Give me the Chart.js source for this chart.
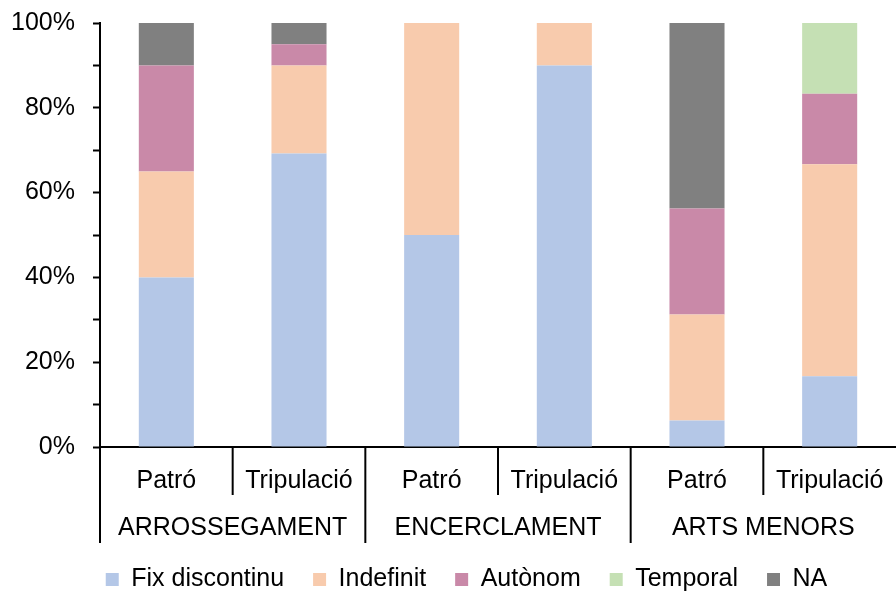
<!DOCTYPE html>
<html>
<head>
<meta charset="utf-8">
<script src="https://cdn.jsdelivr.net/npm/chart.js@4/dist/chart.umd.min.js"></script>
<style>
  html, body { margin: 0; padding: 0; background: #fff; overflow: hidden; }
  #wrap { width: 933px; height: 602px; }
</style>
</head>
<body>
<div id="wrap"><canvas id="chart"></canvas></div>
<script>
// Dades (percentatges per barra)
const grups = ["ARROSSEGAMENT", "ENCERCLAMENT", "ARTS MENORS"];
const subcats = ["Patró", "Tripulació", "Patró", "Tripulació", "Patró", "Tripulació"];
const fixDiscontinu = [40, 69.2, 50, 90, 6.25, 16.67];
const indefinit = [25, 20.8, 50, 10, 25, 50];
const autonom = [25, 5, 0, 0, 25, 16.67];
const temporal = [0, 0, 0, 0, 0, 16.66];
const na = [10, 5, 0, 0, 43.75, 0];
const yTicks = [0, 20, 40, 60, 80, 100];

const FONT = "'Liberation Sans', Arial, sans-serif";
const MIDA = 25;

// Etiquetes de dos nivells a l'eix X
const etiquetesX = {
  id: "etiquetesX",
  afterDraw(chart) {
    const ctx = chart.ctx;
    const x = chart.scales.x;
    const y0 = chart.chartArea.bottom;
    const pas = x.getPixelForValue(1) - x.getPixelForValue(0);
    ctx.save();
    ctx.strokeStyle = "#000";
    ctx.lineWidth = 2;
    for (let i = 0; i < subcats.length; i++) {
      const px = x.getPixelForValue(i) - pas / 2;
      const llarg = (i % 2 === 0) ? 96 : 48;
      ctx.beginPath();
      ctx.moveTo(px, y0);
      ctx.lineTo(px, y0 + llarg);
      ctx.stroke();
    }
    ctx.fillStyle = "#000";
    ctx.font = MIDA + "px " + FONT;
    ctx.textAlign = "center";
    ctx.textBaseline = "middle";
    subcats.forEach((s, i) => {
      ctx.fillText(s, x.getPixelForValue(i), y0 + 34);
    });
    grups.forEach((g, j) => {
      const cx = (x.getPixelForValue(2 * j) + x.getPixelForValue(2 * j + 1)) / 2;
      ctx.fillText(g, cx, y0 + 81);
    });
    ctx.restore();
  }
};

const series = [
  { label: "Fix discontinu", data: fixDiscontinu, color: "#B4C7E7" },
  { label: "Indefinit", data: indefinit, color: "#F8CBAD" },
  { label: "Autònom", data: autonom, color: "#C989A8" },
  { label: "Temporal", data: temporal, color: "#C5E0B4" },
  { label: "NA", data: na, color: "#808080" }
];

new Chart(document.getElementById("chart"), {
  type: "bar",
  data: {
    labels: subcats,
    datasets: series.map(s => ({
      label: s.label,
      data: s.data,
      backgroundColor: s.color,
      borderWidth: 0,
      barPercentage: 0.415,
      categoryPercentage: 1
    }))
  },
  options: {
    responsive: true,
    maintainAspectRatio: false,
    animation: false,
    layout: { padding: { top: 23, right: 0, left: 0, bottom: 0 } },
    plugins: {
      legend: {
        position: "bottom",
        labels: {
          font: { family: FONT, size: MIDA },
          color: "#000",
          boxWidth: 13,
          boxHeight: 13,
          padding: 29
        }
      },
      tooltip: { enabled: false }
    },
    scales: {
      x: {
        stacked: true,
        offset: true,
        grid: { display: false },
        border: { display: true, color: "#000", width: 2 },
        ticks: { display: false },
        afterFit: s => { s.height = 91; s.paddingLeft = 0; s.paddingRight = 37; }
      },
      y: {
        stacked: true,
        min: 0,
        max: 100,
        ticks: {
          stepSize: 10,
          color: "#000",
          font: { family: FONT, size: MIDA },
          padding: 18,
          callback: v => yTicks.includes(v) ? v + "%" : ""
        },
        grid: { drawOnChartArea: false, tickLength: 7, tickColor: "#000", tickWidth: 2 },
        border: { display: true, color: "#000", width: 2 },
        afterFit: s => { s.width = 100; s.paddingTop = 0; s.paddingBottom = 0; }
      }
    }
  },
  plugins: [etiquetesX]
});
</script>
</body>
</html>
